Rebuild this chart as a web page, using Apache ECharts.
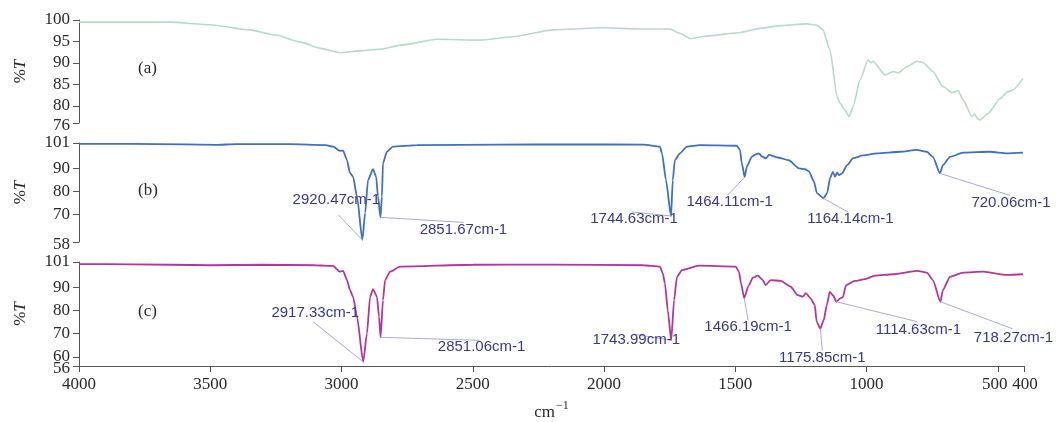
<!DOCTYPE html>
<html>
<head>
<meta charset="utf-8">
<title>FTIR spectra</title>
<script src="https://cdn.jsdelivr.net/npm/echarts@6/dist/echarts.min.js"></script>
<style>
  html, body { margin: 0; padding: 0; background: #fff; }
  #chart { width: 1059px; height: 422px; }
</style>
</head>
<body>
<div id="chart"></div>
<script>
// Wavenumber tick labels (cm-1), shared by all three panels
const xTicks = [4000, 3500, 3000, 2500, 2000, 1500, 1000, 500, 400];

// %T tick labels per panel
const yTicksA = [76, 80, 85, 90, 95, 100];
const yTicksB = [58, 70, 80, 90, 101];
const yTicksC = [56, 60, 70, 80, 90, 101];

const panelNames = ['(a)', '(b)', '(c)'];

// Spectrum (a): [wavenumber, %T]
const specA = [
  [4000,99.5],[3800,99.5],[3650,99.5],[3500,98.9],[3350,97.7],[3250,96.5],[3160,94.9],[3080,93.4],
  [3006,92.4],[2930,92.8],[2853,93.2],[2766,94.2],[2636,95.5],[2472,95.3],[2347,96.1],[2194,97.7],
  [2004,98.2],[1863,97.9],[1749,97.9],[1711,96.9],[1672,95.7],[1600,96.3],[1482,97.1],[1400,98.1],
  [1330,98.7],[1227,99.1],[1189,98.8],[1166,97.7],[1139,93.0],[1112,82.1],[1101,80.6],[1082,79.0],
  [1067,77.5],[1051,79.8],[1025,86.0],[994,90.7],[983,90.0],[975,90.4],[930,87.2],[899,88.0],
  [880,87.7],[846,89.1],[808,90.4],[785,90.1],[747,88.0],[709,84.5],[674,83.1],[651,83.5],
  [632,81.4],[598,77.5],[587,78.1],[579,77.1],[568,76.7],[537,78.2],[491,81.7],[461,83.3],
  [442,83.7],[404,86.4]
];

// Spectrum (b), without its labelled minima
const specB = [
  [4000,100.6],[3800,100.6],[3600,100.4],[3480,100.2],[3400,100.5],[3200,100.5],[3060,100.1],
  [3032,99.4],[3006,97.6],[2994,97.7],[2979,93.6],[2968,88.0],[2956,86.4],[2941,77.7],[2910,70.6],
  [2899,84.9],[2880,89.6],[2868,86.4],[2861,77.7],[2846,77.7],[2842,92.3],[2827,97.2],[2804,99.4],
  [2712,100.1],[2400,100.3],[2100,100.4],[1850,100.3],[1787,99.4],[1779,96.5],[1764,84.9],
  [1738,84.9],[1730,93.6],[1711,96.5],[1684,99.4],[1635,100.1],[1494,99.8],[1482,98.0],[1475,92.2],
  [1456,90.7],[1437,95.0],[1422,96.1],[1410,96.5],[1399,95.2],[1383,94.3],[1372,95.8],[1334,94.6],
  [1296,93.5],[1257,90.0],[1234,89.6],[1220,88.8],[1200,84.2],[1189,79.2],[1150,79.2],[1139,85.7],
  [1128,88.5],[1120,86.4],[1112,88.2],[1105,87.1],[1093,87.8],[1074,91.4],[1051,94.4],[1013,95.6],
  [960,96.5],[872,97.2],[808,98.0],[770,97.2],[747,95.0],[709,91.4],[682,95.0],[632,96.8],
  [530,97.2],[465,96.5],[404,96.8]
];
// Labelled minima of (b): [wavenumber, %T]
const peaksB = [[2920.47,58.9],[2851.67,68.7],[1744.63,69.3],[1464.11,86.2],[1164.14,77.0],[720.06,87.8]];

// Spectrum (c), without its labelled minima
const specC = [
  [4000,100.1],[3800,100.0],[3500,99.6],[3300,99.8],[3100,99.6],[3032,99.3],[3006,96.8],[2994,97.2],
  [2979,93.2],[2968,88.9],[2956,86.0],[2941,77.3],[2903,70.1],[2891,86.0],[2880,89.2],[2865,86.0],
  [2857,77.3],[2842,84.5],[2834,93.2],[2815,96.8],[2777,99.0],[2500,99.8],[2200,99.9],[1850,99.6],
  [1787,99.0],[1776,96.1],[1768,91.8],[1757,80.0],[1733,84.5],[1722,94.6],[1703,97.5],[1638,99.4],
  [1498,99.0],[1486,96.8],[1478,91.8],[1450,90.5],[1433,94.2],[1414,95.1],[1395,93.2],[1384,91.0],
  [1365,93.2],[1327,92.8],[1289,90.3],[1262,86.7],[1243,86.0],[1231,87.5],[1213,85.3],[1197,82.4],
  [1190,75.2],[1163,75.9],[1151,82.4],[1140,88.1],[1127,86.5],[1100,85.3],[1090,85.8],[1078,91.0],
  [1044,92.8],[1006,93.6],[968,95.1],[899,95.7],[808,97.2],[770,96.4],[747,93.2],[709,88.9],
  [682,94.6],[632,96.4],[556,96.8],[465,95.4],[404,95.7]
];
// Labelled minima of (c): [wavenumber, %T]
const peaksC = [[2917.33,57.8],[2851.06,68.4],[1743.99,67.2],[1466.19,85.4],[1175.85,72.2],[1114.63,83.8],[718.27,83.8]];

// Pixel offsets from each labelled minimum: text centre (tx, ty) and leader end (lx, ly)
const calloutB = [
  {tx:-26, ty:-40, lx:-24, ly:-25},
  {tx: 83, ty: 12, lx: 83, ly:  5},
  {tx:-37, ty:  3, lx:-39, ly: -4},
  {tx:-15, ty: 25, lx:-17, ly: 18},
  {tx: 27, ty: 21, lx: 25, ly: 14},
  {tx: 71, ty: 29, lx: 70, ly: 22}
];
const calloutC = [
  {tx:-48, ty:-49, lx:-50, ly:-40},
  {tx:101, ty: 10, lx: 99, ly:  3},
  {tx:-35, ty:  0, lx:-38, ly: -6},
  {tx:  4, ty: 29, lx:  4, ly: 22},
  {tx:  2, ty: 29, lx:  2, ly: 22},
  {tx: 82, ty: 28, lx: 81, ly: 20},
  {tx: 73, ty: 36, lx: 72, ly: 27}
];

const SERIF = '"Liberation Serif", "Times New Roman", serif';
const SANS = '"Liberation Sans", Arial, sans-serif';
const AXIS_COLOR = '#555';
const TEXT_COLOR = '#2a2a2a';
const COLORS = ['#b6dbc7', '#3f70c2', '#b2369b'];

function withPeaks(spec, peaks) {
  return spec.concat(peaks).sort((a, b) => b[0] - a[0]);
}

const grids = [
  { left: 79, right: 35, top: 20, height: 103 },
  { left: 79, right: 35, top: 143, height: 99 },
  { left: 79, right: 35, top: 262, height: 104 }
];

const tickFont = { fontFamily: SERIF, fontSize: 17, color: TEXT_COLOR };

function xAxisFor(i) {
  const bottom = i === 2;
  return {
    type: 'value', gridIndex: i, inverse: true, min: 400, max: 4000,
    splitLine: { show: false },
    axisLine: { show: bottom, onZero: false, lineStyle: { color: AXIS_COLOR, width: 1 } },
    axisTick: { show: bottom, length: 6, inside: false, customValues: xTicks, lineStyle: { color: AXIS_COLOR } },
    axisLabel: {
      show: bottom, customValues: xTicks, margin: 10, hideOverlap: false,
      color: TEXT_COLOR, fontFamily: SERIF, fontSize: 17,
      // the two closest ticks nudge their labels apart
      formatter: v => v === 500 ? '{l|500}' : v === 400 ? '{r|400}' : String(v),
      rich: {
        l: Object.assign({ padding: [0, 6, 0, 0] }, tickFont),
        r: Object.assign({ padding: [0, 0, 0, 2] }, tickFont)
      }
    },
    name: bottom ? '{b|cm}{s|−1}' : '',
    nameLocation: 'middle', nameGap: 30,
    nameTextStyle: {
      rich: {
        b: { fontFamily: SERIF, fontSize: 17, color: TEXT_COLOR, padding: [8, 0, 0, 0] },
        s: { fontFamily: SERIF, fontSize: 12, color: TEXT_COLOR, padding: [0, 0, 6, 1] }
      }
    }
  };
}

// Main %T axis: line, all ticks, and every label except the lowest one
function yAxisFor(i, ticks) {
  return {
    type: 'value', gridIndex: i, min: ticks[0], max: ticks[ticks.length - 1],
    splitLine: { show: false },
    axisLine: { show: true, lineStyle: { color: AXIS_COLOR, width: 1 } },
    axisTick: { show: true, length: 6, customValues: ticks, lineStyle: { color: AXIS_COLOR } },
    axisLabel: {
      customValues: ticks.slice(1), margin: 9, hideOverlap: false,
      color: TEXT_COLOR, fontFamily: SERIF, fontSize: 17, formatter: v => String(v)
    },
    name: '{p|%}{t|T}', nameLocation: 'middle', nameRotate: 90, nameGap: 50,
    nameTextStyle: {
      rich: {
        p: { fontFamily: SERIF, fontSize: 17, color: TEXT_COLOR },
        t: { fontFamily: SERIF, fontSize: 17, fontStyle: 'italic', color: TEXT_COLOR }
      }
    }
  };
}

// Companion axis on the same grid carrying only the lowest label,
// nudged down a little so it clears its close neighbour
function yMinLabelAxisFor(i, ticks) {
  return {
    type: 'value', gridIndex: i, position: 'left', min: ticks[0], max: ticks[ticks.length - 1],
    splitLine: { show: false },
    axisLine: { show: false },
    axisTick: { show: false },
    axisLabel: {
      customValues: [ticks[0]], margin: 9,
      formatter: v => '{m|' + v + '}',
      rich: { m: Object.assign({ padding: [5, 0, 0, 0] }, tickFont) }
    }
  };
}

function lineSeries(i, data, color, width) {
  return {
    type: 'line', xAxisIndex: i, yAxisIndex: i, data: data,
    showSymbol: false, smooth: 0.2, smoothMonotone: 'x',
    lineStyle: { color: color, width: width }, itemStyle: { color: color },
    silent: true, z: 2
  };
}

function calloutSeries(i, peaks, layout) {
  return {
    type: 'custom', xAxisIndex: i, yAxisIndex: i, data: peaks, clip: false, silent: true, z: 5,
    renderItem: function (params, api) {
      const wn = api.value(0);
      const p = api.coord([wn, api.value(1)]);
      const o = layout[params.dataIndex];
      return {
        type: 'group',
        children: [
          {
            type: 'line',
            shape: { x1: p[0], y1: p[1], x2: p[0] + o.lx, y2: p[1] + o.ly },
            style: { stroke: '#a9a9de', lineWidth: 1 }
          },
          {
            type: 'text', x: p[0] + o.tx, y: p[1] + o.ty,
            style: {
              text: wn.toFixed(2) + 'cm-1', fill: '#393795',
              font: '15px ' + SANS, align: 'center', verticalAlign: 'middle'
            }
          }
        ]
      };
    }
  };
}

const chart = echarts.init(document.getElementById('chart'), null, { renderer: 'canvas' });
chart.setOption({
  animation: false,
  backgroundColor: '#ffffff',
  title: panelNames.map((t, i) => ({
    text: t, left: 133, top: [55, 177, 298][i],
    textStyle: { fontFamily: SERIF, fontSize: 17, fontWeight: 'normal', color: TEXT_COLOR }
  })),
  grid: grids,
  xAxis: [xAxisFor(0), xAxisFor(1), xAxisFor(2)],
  yAxis: [
    yAxisFor(0, yTicksA), yAxisFor(1, yTicksB), yAxisFor(2, yTicksC),
    yMinLabelAxisFor(0, yTicksA), yMinLabelAxisFor(1, yTicksB), yMinLabelAxisFor(2, yTicksC)
  ],
  series: [
    lineSeries(0, specA, COLORS[0], 1.6),
    lineSeries(1, withPeaks(specB, peaksB), COLORS[1], 1.8),
    lineSeries(2, withPeaks(specC, peaksC), COLORS[2], 1.8),
    calloutSeries(1, peaksB, calloutB),
    calloutSeries(2, peaksC, calloutC)
  ]
});
</script>
</body>
</html>
